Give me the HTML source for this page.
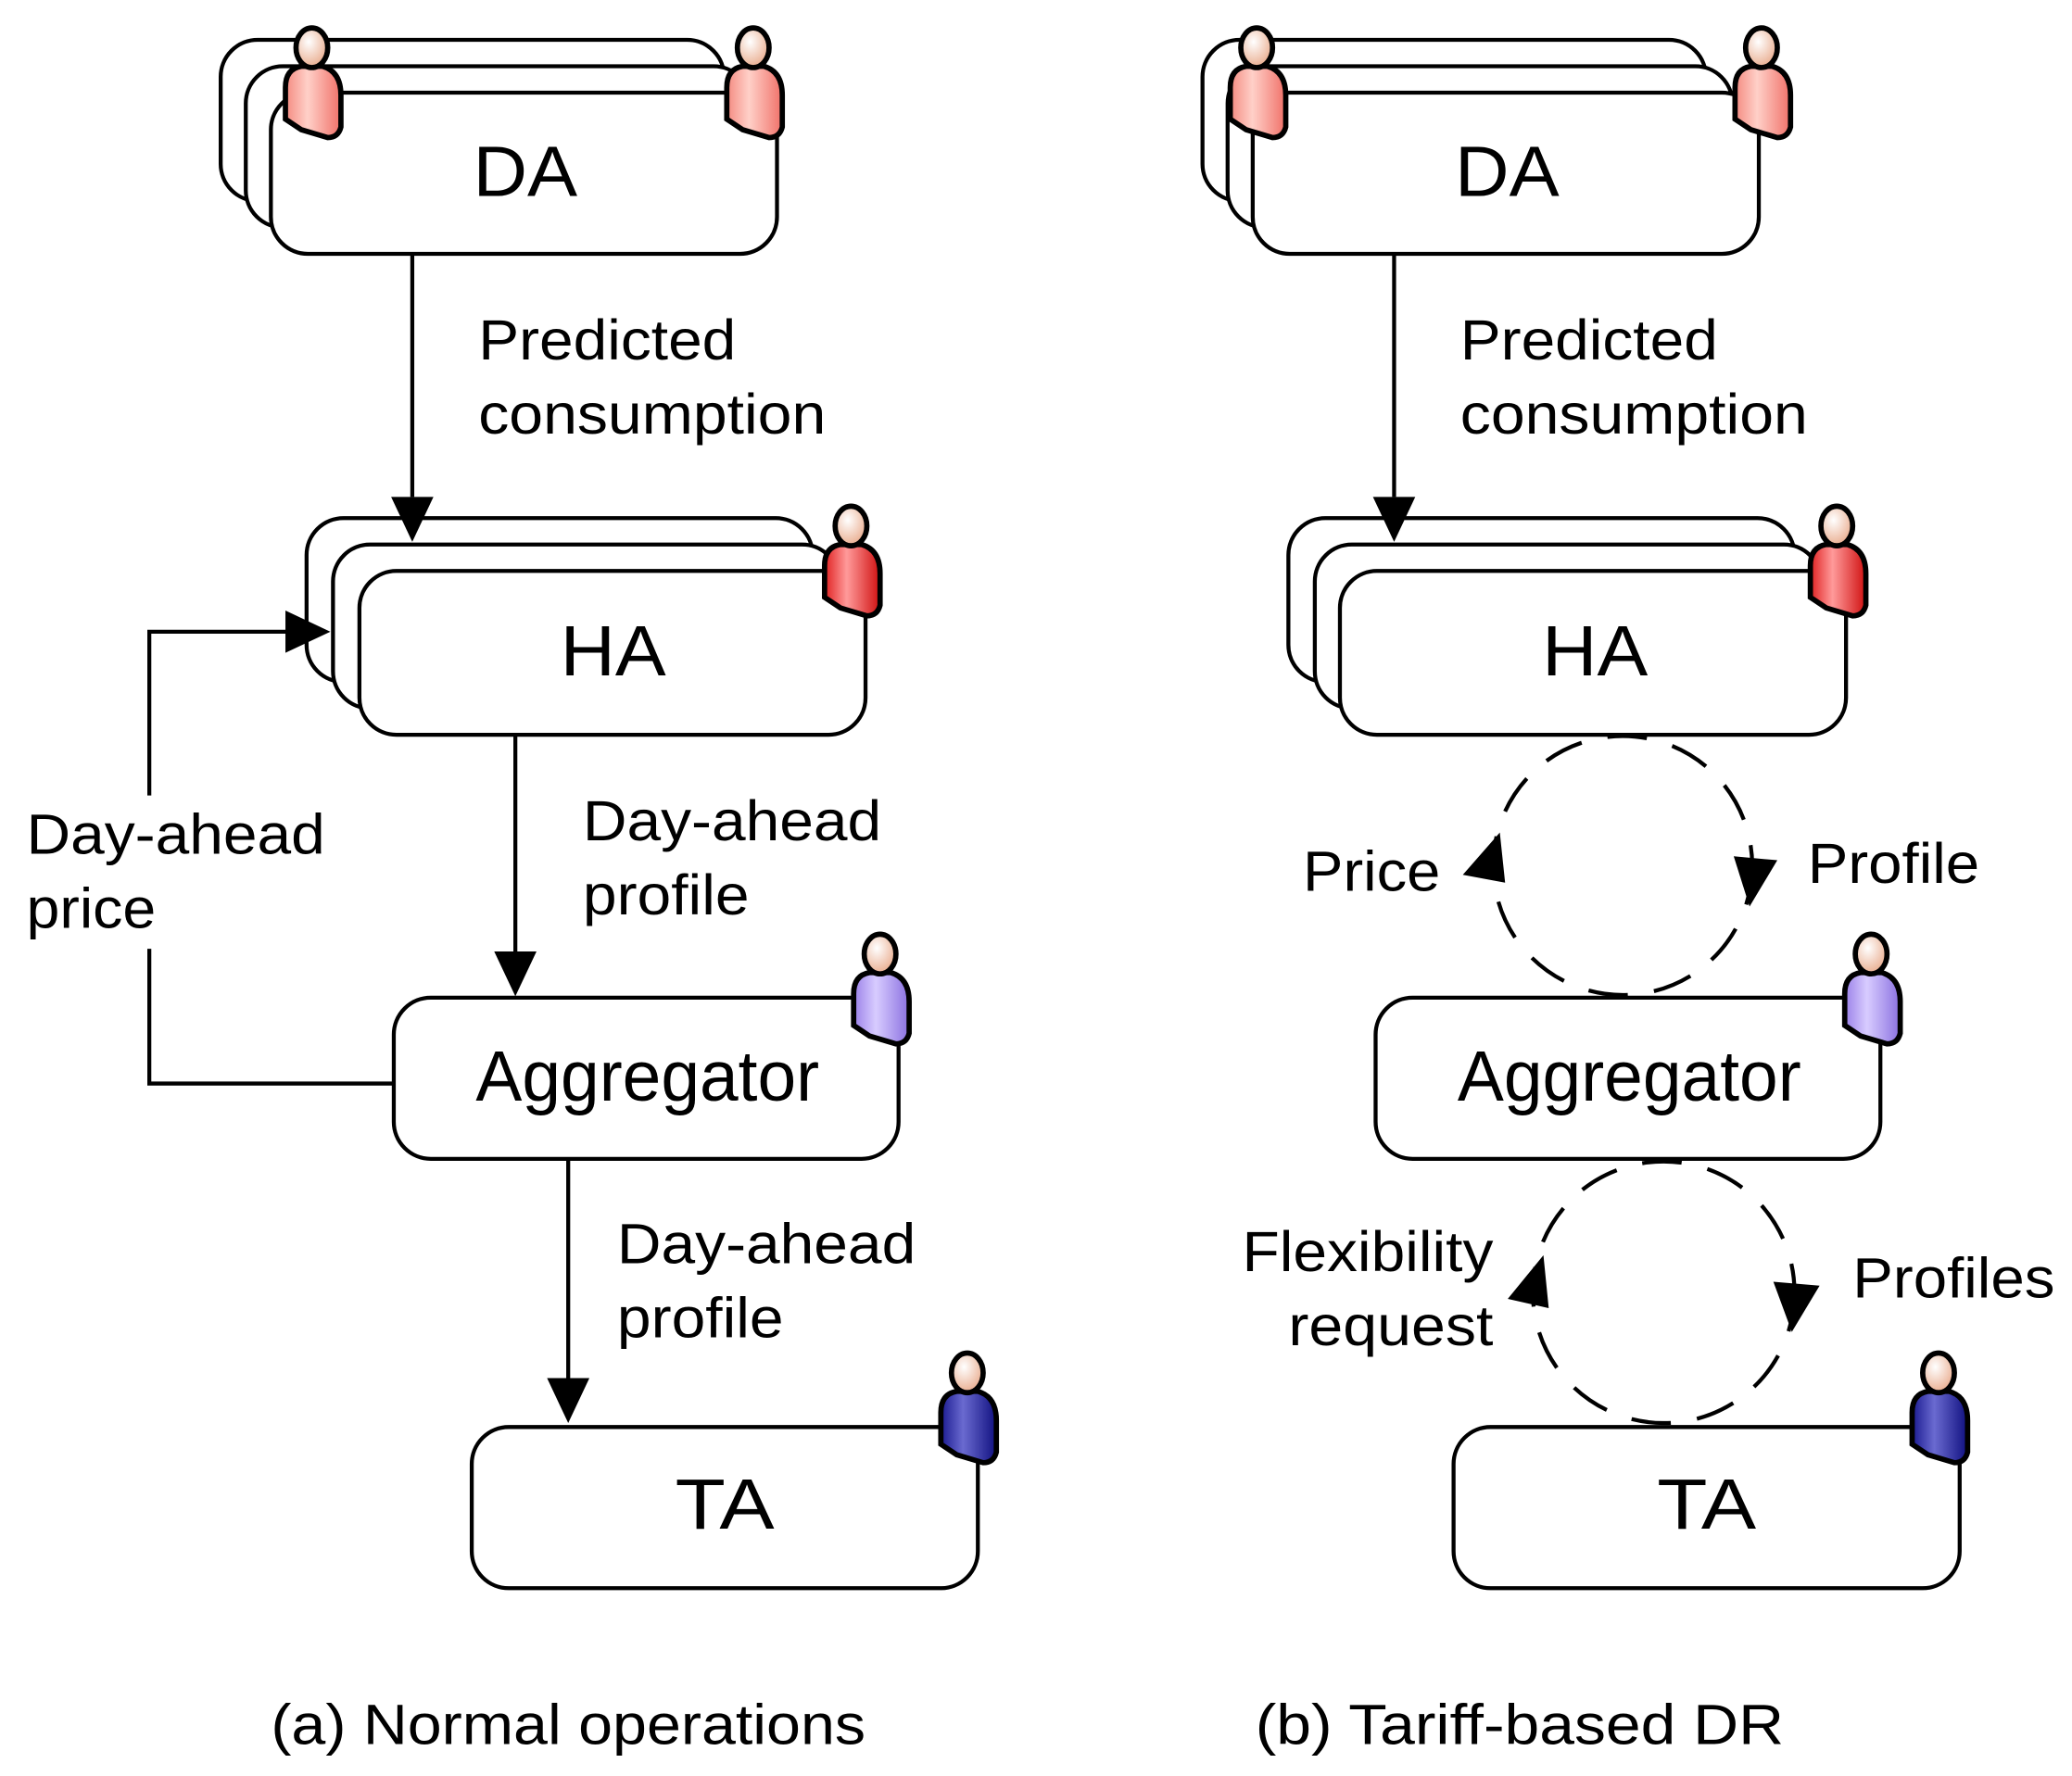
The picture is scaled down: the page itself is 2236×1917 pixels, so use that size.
<!DOCTYPE html>
<html><head><meta charset="utf-8"><style>
html,body{margin:0;padding:0;background:#fff;}
svg{display:block;}
text{font-family:"Liberation Sans",sans-serif;fill:#000;}
</style></head><body>
<svg width="2236" height="1917" viewBox="0 0 1568 1344" xmlns="http://www.w3.org/2000/svg">
<defs>
<linearGradient id="gr" x1="0" x2="1"><stop offset="0" stop-color="#f48a80"/><stop offset="0.4" stop-color="#ffd0c8"/><stop offset="1" stop-color="#f07068"/></linearGradient>
<linearGradient id="gr2" x1="0" x2="1"><stop offset="0" stop-color="#e02020"/><stop offset="0.4" stop-color="#ff9a9a"/><stop offset="1" stop-color="#d01010"/></linearGradient>
<linearGradient id="gp" x1="0" x2="1"><stop offset="0" stop-color="#9a80e8"/><stop offset="0.4" stop-color="#d8ccff"/><stop offset="1" stop-color="#8a70e0"/></linearGradient>
<linearGradient id="gb" x1="0" x2="1"><stop offset="0" stop-color="#1a1a90"/><stop offset="0.4" stop-color="#6a6ad0"/><stop offset="1" stop-color="#101080"/></linearGradient>
<radialGradient id="gh" cx="0.4" cy="0.35" r="0.7"><stop offset="0" stop-color="#fff"/><stop offset="1" stop-color="#e8a888"/></radialGradient>
<g id="p">
<path d="M-20,26 Q-20,12 -8,10 L8,10 Q22,14 22,32 L22,56 Q20,64 12,64 L-8,58 L-20,50 Z" stroke="#000" stroke-width="4"/>
<ellipse cx="0" cy="-4" rx="12" ry="15" fill="url(#gh)" stroke="#000" stroke-width="4"/>
</g>
</defs>
<g fill="#fff" stroke="#000" stroke-width="3">
<rect x="167" y="30" width="381" height="122" rx="28"/>
<rect x="186" y="50" width="382" height="122" rx="28"/>
<rect x="205" y="70" width="383" height="122" rx="28"/>
<rect x="232" y="392" width="383" height="124" rx="28"/>
<rect x="252" y="412" width="383" height="124" rx="28"/>
<rect x="272" y="432" width="383" height="124" rx="28"/>
<rect x="298" y="755" width="382" height="122" rx="28"/>
<rect x="357" y="1080" width="383" height="122" rx="28"/>
<rect x="910" y="30" width="381" height="122" rx="28"/>
<rect x="929" y="50" width="382" height="122" rx="28"/>
<rect x="948" y="70" width="383" height="122" rx="28"/>
<rect x="975" y="392" width="383" height="124" rx="28"/>
<rect x="995" y="412" width="383" height="124" rx="28"/>
<rect x="1014" y="432" width="383" height="124" rx="28"/>
<rect x="1041" y="755" width="382" height="122" rx="28"/>
<rect x="1100" y="1080" width="383" height="122" rx="28"/>
</g>
<g stroke="#000" stroke-width="3" fill="none">
<line x1="312" y1="192" x2="312" y2="376"/>
<line x1="390" y1="556" x2="390" y2="720"/>
<line x1="430" y1="877" x2="430" y2="1043"/>
<polyline points="298,820 113,820 113,718"/>
<polyline points="113,602 113,478 218,478"/>
<line x1="1055" y1="192" x2="1055" y2="376"/>
<circle cx="1228" cy="655" r="98" stroke-dasharray="30,20"/>
<circle cx="1259" cy="978" r="99" stroke-dasharray="30,20"/>
</g>
<g fill="#000">
<path d="M296,376 L328,376 L312,410 Z"/>
<path d="M374,720 L406,720 L390,754 Z"/>
<path d="M414,1043 L446,1043 L430,1077 Z"/>
<path d="M216,462 L216,494 L250,478 Z"/>
<path d="M1039,376 L1071,376 L1055,410 Z"/>
<path d="M1107,662 L1135,630 L1139,668 Z"/>
<path d="M1312,648 L1345,651 L1324,686 Z"/>
<path d="M1141,983 L1168,950 L1172,990 Z"/>
<path d="M1342,970 L1377,973 L1356,1008 Z"/>
</g>
<use href="#p" x="236" y="40" fill="url(#gr)"/>
<use href="#p" x="570" y="40" fill="url(#gr)"/>
<use href="#p" x="951" y="40" fill="url(#gr)"/>
<use href="#p" x="1333" y="40" fill="url(#gr)"/>
<use href="#p" x="644" y="402" fill="url(#gr2)"/>
<use href="#p" x="1390" y="402" fill="url(#gr2)"/>
<use href="#p" x="666" y="726" fill="url(#gp)"/>
<use href="#p" x="1416" y="726" fill="url(#gp)"/>
<use href="#p" x="732" y="1043" fill="url(#gb)"/>
<use href="#p" x="1467" y="1043" fill="url(#gb)"/>
<g font-size="54" lengthAdjust="spacingAndGlyphs">
<text x="358" y="148" textLength="79" lengthAdjust="spacingAndGlyphs">DA</text>
<text x="424" y="511" textLength="80" lengthAdjust="spacingAndGlyphs">HA</text>
<text x="360" y="833" textLength="260" lengthAdjust="spacingAndGlyphs">Aggregator</text>
<text x="511" y="1157" textLength="75" lengthAdjust="spacingAndGlyphs">TA</text>
<text x="1101" y="148" textLength="79" lengthAdjust="spacingAndGlyphs">DA</text>
<text x="1167" y="511" textLength="80" lengthAdjust="spacingAndGlyphs">HA</text>
<text x="1103" y="833" textLength="260" lengthAdjust="spacingAndGlyphs">Aggregator</text>
<text x="1254" y="1157" textLength="75" lengthAdjust="spacingAndGlyphs">TA</text>
</g>
<g font-size="43">
<text x="362" y="272" textLength="195" lengthAdjust="spacingAndGlyphs">Predicted</text>
<text x="362" y="328" textLength="263" lengthAdjust="spacingAndGlyphs">consumption</text>
<text x="441" y="636" textLength="226" lengthAdjust="spacingAndGlyphs">Day-ahead</text>
<text x="441" y="692" textLength="126" lengthAdjust="spacingAndGlyphs">profile</text>
<text x="20" y="646" textLength="226" lengthAdjust="spacingAndGlyphs">Day-ahead</text>
<text x="20" y="702" textLength="98" lengthAdjust="spacingAndGlyphs">price</text>
<text x="467" y="956" textLength="226" lengthAdjust="spacingAndGlyphs">Day-ahead</text>
<text x="467" y="1012" textLength="126" lengthAdjust="spacingAndGlyphs">profile</text>
<text x="1105" y="272" textLength="195" lengthAdjust="spacingAndGlyphs">Predicted</text>
<text x="1105" y="328" textLength="263" lengthAdjust="spacingAndGlyphs">consumption</text>
<text x="986" y="674" textLength="104" lengthAdjust="spacingAndGlyphs">Price</text>
<text x="1368" y="668" textLength="130" lengthAdjust="spacingAndGlyphs">Profile</text>
<text x="940" y="962" textLength="190" lengthAdjust="spacingAndGlyphs">Flexibility</text>
<text x="975" y="1018" textLength="155" lengthAdjust="spacingAndGlyphs">request</text>
<text x="1402" y="982" textLength="153" lengthAdjust="spacingAndGlyphs">Profiles</text>
<text x="205" y="1320" textLength="450" lengthAdjust="spacingAndGlyphs">(a) Normal operations</text>
<text x="950" y="1320" textLength="400" lengthAdjust="spacingAndGlyphs">(b) Tariff-based DR</text>
</g>
</svg>
</body></html>
